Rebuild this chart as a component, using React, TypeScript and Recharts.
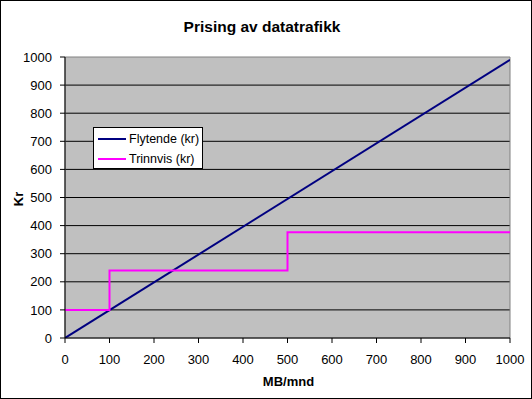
import React from "react";
import { LineChart, Line, XAxis, YAxis, CartesianGrid, ReferenceArea, Legend } from "recharts";

const xTicks = [0, 100, 200, 300, 400, 500, 600, 700, 800, 900, 1000];
const yTicks = [0, 100, 200, 300, 400, 500, 600, 700, 800, 900, 1000];
const gridValues = [100, 200, 300, 400, 500, 600, 700, 800, 900];

const flytendeX = [0, 1000];
const flytendeY = [0, 990];
const trinnvisX = [0, 100, 500, 1000];
const trinnvisY = [100, 240, 376, 376];

const flytende = flytendeX.map((x, i) => ({ x, y: flytendeY[i] }));
const trinnvis = trinnvisX.map((x, i) => ({ x, y: trinnvisY[i] }));

const FONT = "'Liberation Sans', Arial, sans-serif";

const renderLegend = (props: any) => {
  const { payload } = props;
  return (
    <div
      style={{
        position: "absolute",
        left: 93,
        top: 127,
        width: 110,
        height: 42,
        boxSizing: "border-box",
        background: "#fff",
        border: "1px solid #000",
        fontFamily: FONT,
        fontSize: 12.5,
      }}
    >
      {(payload || []).map((p: any, i: number) => (
        <div
          key={i}
          style={{ position: "absolute", left: 4, top: 2 + i * 20, height: 18, display: "flex", alignItems: "center" }}
        >
          <span style={{ display: "inline-block", width: 28, height: 2, background: p.color, marginRight: 3 }} />
          <span style={{ color: "#000", whiteSpace: "nowrap" }}>{p.value}</span>
        </div>
      ))}
    </div>
  );
};

export default function App() {
  return (
    <div
      style={{
        position: "absolute",
        left: 0,
        top: 0,
        width: 532,
        height: 399,
        boxSizing: "border-box",
        border: "1px solid #000",
        background: "#fff",
        fontFamily: FONT,
      }}
    >
      <div
        style={{
          position: "absolute",
          left: 0,
          width: 522,
          top: 17,
          textAlign: "center",
          fontWeight: "bold",
          fontSize: 15.5,
          color: "#000",
        }}
      >
        Prising av datatrafikk
      </div>
      <div
        style={{
          position: "absolute",
          left: 10,
          top: 188,
          width: 16,
          height: 20,
          fontWeight: "bold",
          fontSize: 13,
          transform: "rotate(-90deg)",
          transformOrigin: "center",
          textAlign: "center",
          lineHeight: "20px",
        }}
      >
        Kr
      </div>
      <div
        style={{
          position: "absolute",
          left: 65,
          width: 445,
          top: 373,
          textAlign: "center",
          fontWeight: "bold",
          fontSize: 13,
        }}
      >
        MB/mnd
      </div>
      <div style={{ position: "absolute", left: -1, top: -1 }}>
        <LineChart width={532} height={399} margin={{ top: 57, right: 22, left: 0, bottom: 0 }}>
          <CartesianGrid
            horizontal={true}
            vertical={false}
            horizontalValues={gridValues}
            stroke="#000"
            strokeWidth={1}
            fill="#C0C0C0"
            fillOpacity={1}
          />
          <ReferenceArea
            x1={0}
            x2={1000}
            y1={0}
            y2={1000}
            fill="none"
            fillOpacity={0}
            stroke="#808080"
            strokeWidth={1}
            ifOverflow="visible"
          />
          <XAxis
            type="number"
            dataKey="x"
            domain={[0, 1000]}
            ticks={xTicks}
            interval={0}
            height={61}
            tickSize={5}
            tickMargin={12}
            axisLine={{ stroke: "#000" }}
            tickLine={{ stroke: "#000" }}
            tick={{ fill: "#000", fontSize: 13, fontFamily: FONT }}
            allowDataOverflow
          />
          <YAxis
            type="number"
            domain={[0, 1000]}
            ticks={yTicks}
            interval={0}
            width={65}
            tickSize={5}
            tickMargin={8}
            axisLine={{ stroke: "#000" }}
            tickLine={{ stroke: "#000" }}
            tick={{ fill: "#000", fontSize: 13, fontFamily: FONT }}
            allowDataOverflow
          />
          <Legend
            content={renderLegend}
            wrapperStyle={{ position: "absolute", top: 0, left: 0, bottom: "auto", width: 0, height: 0 }}
          />
          <Line
            data={flytende}
            dataKey="y"
            name="Flytende (kr)"
            type="linear"
            stroke="#000080"
            strokeWidth={2}
            dot={false}
            isAnimationActive={false}
          />
          <Line
            data={trinnvis}
            dataKey="y"
            name="Trinnvis (kr)"
            type="stepAfter"
            stroke="#FF00FF"
            strokeWidth={2}
            dot={false}
            isAnimationActive={false}
          />
        </LineChart>
      </div>
    </div>
  );
}
